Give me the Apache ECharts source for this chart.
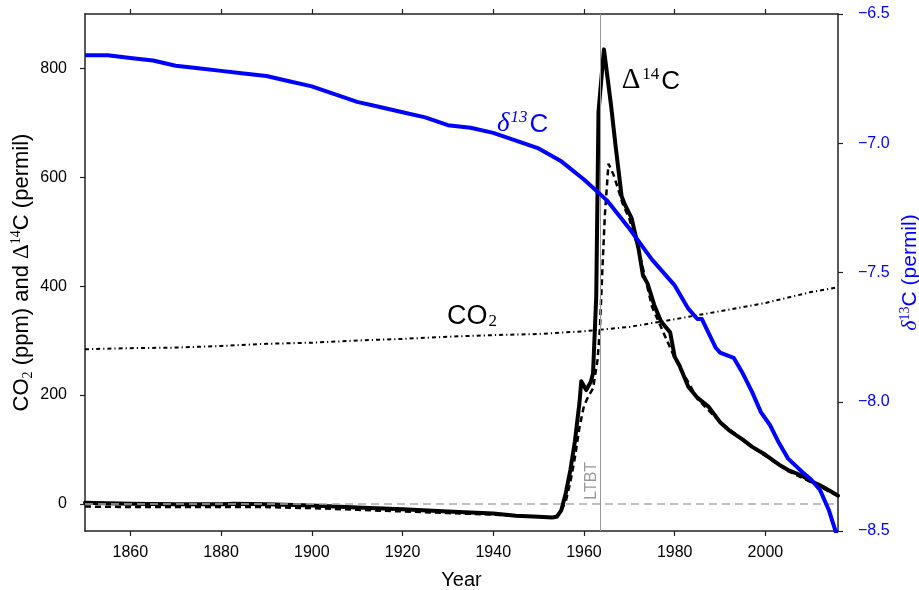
<!DOCTYPE html>
<html>
<head>
<meta charset="utf-8">
<script src="https://cdn.jsdelivr.net/npm/echarts@6/dist/echarts.min.js"></script>
<style>
html,body{margin:0;padding:0;background:#fff;}
#c{width:919px;height:590px;}
</style>
</head>
<body>
<div id="c"></div>
<script>
// ---- data ----
const xTickValues = [1860, 1880, 1900, 1920, 1940, 1960, 1980, 2000];
const leftTickValues = [0, 200, 400, 600, 800];

const co2Years  = [1850,1860,1870,1880,1890,1900,1910,1920,1930,1940,1950,1960,1970,1980,1990,2000,2010,2016];
const co2Values = [284,286,287,290,294,296,300,303,307,310,312,317,325,339,354,369,389,398];

const d14Years  = [1850,1860,1870,1880,1883,1890,1900,1910,1920,1930,1940,1945,1950,1953,1954,1955,1956,1957,1958,1959,1959.4,1960.5,1961.5,1962,1962.7,1963.2,1964.4,1966,1967,1968.3,1969,1970.5,1972,1973,1974,1975.5,1977,1979,1980,1981,1983,1985,1987.5,1990,1992,1995,1997,2000,2003,2005,2008,2010,2012,2014,2016];
const d14Values = [2,0,-1,-1,0,-1,-3,-7,-10,-14,-18,-22,-24,-25,-24,-12,20,62,115,185,225,209,224,240,380,720,835,730,655,565,550,525,470,420,405,365,335,315,270,255,215,195,178,150,135,118,105,90,72,62,52,42,34,25,15];

const d14bYears  = [1850,1860,1870,1880,1890,1900,1910,1920,1930,1940,1950,1953,1954,1955,1956,1957,1958,1959,1960,1961,1962,1963,1963.5,1964,1964.6,1965.4,1965.8,1966.5,1967.4,1968.5,1970,1972,1975,1980,1985,1990,1995,2000,2005,2010,2016];
const d14bValues = [-5,-6,-6,-6,-6,-8,-11,-14,-17,-20,-24,-25,-22,-12,5,40,85,140,180,198,212,265,320,420,530,625,628,605,582,552,524,468,362,268,193,150,118,88,60,40,14];

const d13Years  = [1850,1855,1860,1865,1870,1875,1880,1885,1890,1895,1900,1905,1910,1915,1920,1925,1930,1935,1940,1945,1950,1955,1960,1965,1970,1975,1980,1983,1985,1986,1989,1990,1993,1995,1997,1999,2001,2003,2005,2008,2010,2012,2014,2016];
const d13Values = [-6.66,-6.66,-6.67,-6.68,-6.70,-6.71,-6.72,-6.73,-6.74,-6.76,-6.78,-6.81,-6.84,-6.86,-6.88,-6.90,-6.93,-6.94,-6.96,-6.99,-7.02,-7.07,-7.14,-7.22,-7.33,-7.45,-7.55,-7.64,-7.68,-7.68,-7.79,-7.81,-7.83,-7.89,-7.96,-8.04,-8.09,-8.16,-8.22,-8.27,-8.30,-8.34,-8.42,-8.53];

const ltbtYear = 1963.6;
const zeroLevel = 0;

const pairs = (xs, ys) => xs.map((x, i) => [x, ys[i]]);

const SANS = 'Liberation Sans, Arial, sans-serif';
const SERIF = 'Liberation Serif, Times New Roman, serif';
const AX = '#222';

const chart = echarts.init(document.getElementById('c'), null, {renderer: 'canvas'});

const option = {
  animation: false,
  backgroundColor: '#fff',
  grid: {left: 85, right: 81, top: 14, bottom: 59, containLabel: false, outerBoundsMode: 'none'},
  xAxis: [{
    type: 'value', position: 'bottom', min: 1850, max: 2016,
    name: 'Year', nameLocation: 'middle', nameGap: 39, nameMoveOverlap: false,
    nameTextStyle: {fontSize: 20, fontFamily: SANS, color: '#000'},
    axisLine: {show: true, onZero: false, lineStyle: {color: AX, width: 1.5}},
    axisTick: {show: true, length: 5, lineStyle: {color: AX, width: 1.2}, customValues: xTickValues},
    axisLabel: {show: true, fontSize: 16, fontFamily: SANS, color: '#000', margin: 14,
      customValues: xTickValues, formatter: v => String(v)},
    splitLine: {show: false}
  }, {
    type: 'value', position: 'top', min: 1850, max: 2016,
    axisLine: {show: true, onZero: false, lineStyle: {color: AX, width: 1.5}},
    axisTick: {show: true, length: 5, lineStyle: {color: AX, width: 1.2}, customValues: xTickValues},
    axisLabel: {show: false},
    splitLine: {show: false}
  }],
  yAxis: [{
    type: 'value', position: 'left', min: -50, max: 900,
    name: 'CO{sub|2} (ppm) and {d|Δ}{sup|14}C (permil)',
    nameLocation: 'middle', nameGap: 50, nameRotate: 90, nameMoveOverlap: false,
    nameTextStyle: {fontSize: 22, fontFamily: SANS, color: '#000', lineHeight: 26,
      rich: {
        sub: {fontSize: 14, fontFamily: SERIF, lineHeight: 14, verticalAlign: 'bottom', color: '#000'},
        sup: {fontSize: 14, fontFamily: SERIF, lineHeight: 14, verticalAlign: 'top', color: '#000'},
        d: {fontSize: 23, fontFamily: SERIF, lineHeight: 26, color: '#000'}
      }},
    axisLine: {show: true, onZero: false, lineStyle: {color: AX, width: 1.5}},
    axisTick: {show: true, length: 5, lineStyle: {color: AX, width: 1.2}, customValues: leftTickValues},
    axisLabel: {show: true, fontSize: 16, fontFamily: SANS, color: '#000', margin: 18, customValues: leftTickValues},
    splitLine: {show: false}
  }, {
    type: 'value', position: 'right', min: -8.5, max: -6.5, interval: 0.5,
    name: '{i|δ}{sup|13}C (permil)',
    nameLocation: 'middle', nameGap: 60, nameRotate: 90, nameMoveOverlap: false,
    nameTextStyle: {fontSize: 21, fontFamily: SANS, color: '#0000ff', lineHeight: 24,
      rich: {
        sup: {fontSize: 14, fontFamily: SERIF, lineHeight: 14, verticalAlign: 'top', color: '#0000ff'},
        i: {fontSize: 22, fontFamily: SERIF, fontStyle: 'italic', lineHeight: 24, color: '#0000ff'}
      }},
    axisLine: {show: true, onZero: false, lineStyle: {color: AX, width: 1.5}},
    axisTick: {show: true, length: 5, lineStyle: {color: AX, width: 1.2}},
    axisLabel: {show: true, fontSize: 16, fontFamily: SANS, color: '#0000ff', margin: 20,
      formatter: v => v.toFixed(1).replace('-', '\u2212')},
    splitLine: {show: false}
  }],
  series: [{
    name: 'zero', type: 'line', xAxisIndex: 0, yAxisIndex: 0,
    data: [], silent: true,
    markLine: {
      silent: true, symbol: 'none', label: {show: false},
      lineStyle: {color: '#aaaaaa', width: 1.5, type: [8, 5]},
      data: [{yAxis: zeroLevel}]
    },
    z: 1
  }, {
    name: 'ltbt', type: 'line', xAxisIndex: 0, yAxisIndex: 0,
    data: [], silent: true,
    markLine: {
      silent: true, symbol: 'none', label: {show: false},
      lineStyle: {color: '#999999', width: 1, type: 'solid'},
      data: [{xAxis: ltbtYear}]
    },
    z: 1
  }, {
    name: 'CO2', type: 'line', xAxisIndex: 0, yAxisIndex: 0,
    data: pairs(co2Years, co2Values), showSymbol: false, smooth: false,
    lineStyle: {color: '#000', width: 2, type: [4, 3, 1.2, 3]},
    z: 2
  }, {
    name: 'D14C dashed', type: 'line', xAxisIndex: 0, yAxisIndex: 0,
    data: pairs(d14bYears, d14bValues), showSymbol: false,
    lineStyle: {color: '#000', width: 2.5, type: [6, 4]},
    z: 3
  }, {
    name: 'D14C', type: 'line', xAxisIndex: 0, yAxisIndex: 0,
    data: pairs(d14Years, d14Values), showSymbol: false,
    lineStyle: {color: '#000', width: 4, cap: 'round', join: 'round'},
    z: 4
  }, {
    name: 'd13C', type: 'line', xAxisIndex: 0, yAxisIndex: 1,
    data: pairs(d13Years, d13Values), showSymbol: false, clip: true,
    lineStyle: {color: '#0000ff', width: 4, join: 'round'},
    z: 5
  }]
};

chart.setOption(option);

const px = (x, y) => chart.convertToPixel({xAxisIndex: 0, yAxisIndex: 0}, [x, y]);

const pD14 = px(1968.3, 778);
const pD13 = px(1940.8, 699);
const pCO2 = px(1929.8, 345);
const pLT  = px(ltbtYear, 0);

chart.setOption({
  graphic: [{
    type: 'text', x: pD14[0], y: pD14[1], z: 100,
    style: {
      text: '{d|Δ}{sup|14}{c|C}', align: 'left', verticalAlign: 'middle',
      rich: {
        d: {fontSize: 29, fontFamily: SERIF, lineHeight: 28, verticalAlign: 'bottom', fill: '#000'},
        sup: {fontSize: 17, fontFamily: SERIF, lineHeight: 15, verticalAlign: 'top', fill: '#000', padding: [0, 2, 0, 2]},
        c: {fontSize: 26, fontFamily: SANS, lineHeight: 28, verticalAlign: 'bottom', fill: '#000'}
      }
    }
  }, {
    type: 'text', x: pD13[0], y: pD13[1], z: 100,
    style: {
      text: '{d|δ}{sup|13}{c|C}', align: 'left', verticalAlign: 'middle',
      rich: {
        d: {fontSize: 27, fontFamily: SERIF, fontStyle: 'italic', lineHeight: 28, verticalAlign: 'bottom', fill: '#0000ff'},
        sup: {fontSize: 17, fontFamily: SERIF, fontStyle: 'italic', lineHeight: 15, verticalAlign: 'top', fill: '#0000ff', padding: [0, 2, 0, 1]},
        c: {fontSize: 26, fontFamily: SANS, lineHeight: 28, verticalAlign: 'bottom', fill: '#0000ff'}
      }
    }
  }, {
    type: 'text', x: pCO2[0], y: pCO2[1], z: 100,
    style: {
      text: '{c|CO}{sub|2}', align: 'left', verticalAlign: 'middle',
      rich: {
        c: {fontSize: 27, fontFamily: SANS, lineHeight: 28, verticalAlign: 'bottom', fill: '#000'},
        sub: {fontSize: 17, fontFamily: SERIF, lineHeight: 15, verticalAlign: 'bottom', fill: '#000', padding: [0, 0, 0, 1]}
      }
    }
  }, {
    type: 'text', x: pLT[0] - 1, y: pLT[1] - 4, rotation: Math.PI / 2, z: 100,
    style: {
      text: 'LTBT', align: 'left', verticalAlign: 'bottom',
      fontSize: 16, fontFamily: SANS, fill: '#999999'
    }
  }]
});
</script>
</body>
</html>
